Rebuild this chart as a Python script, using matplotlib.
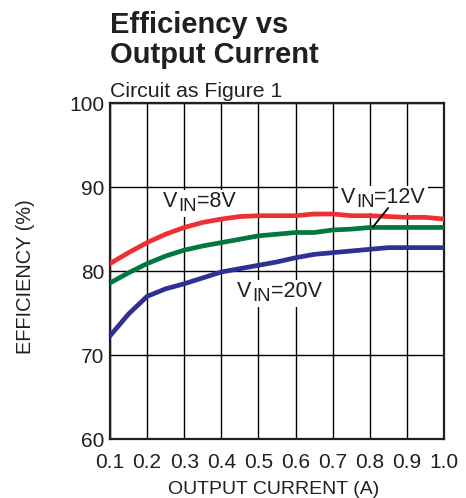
import matplotlib.pyplot as plt
from matplotlib.patches import Rectangle
from matplotlib.transforms import Bbox

plt.rcParams['font.family'] = ['Liberation Sans', 'DejaVu Sans']

# data
current = [0.1, 0.15, 0.2, 0.25, 0.3, 0.35, 0.4, 0.45, 0.5, 0.55, 0.6, 0.65, 0.7, 0.75, 0.8, 0.85, 0.9, 0.95, 1.0]
eff_8v = [80.9, 82.2, 83.4, 84.4, 85.2, 85.8, 86.2, 86.5, 86.6, 86.6, 86.6, 86.8, 86.8, 86.6, 86.6, 86.5, 86.4, 86.4, 86.2]
eff_12v = [78.6, 79.8, 80.9, 81.8, 82.5, 83.0, 83.4, 83.8, 84.2, 84.4, 84.6, 84.6, 84.9, 85.0, 85.2, 85.2, 85.2, 85.2, 85.2]
eff_20v = [72.3, 74.9, 77.0, 77.9, 78.5, 79.2, 79.9, 80.3, 80.7, 81.1, 81.6, 82.0, 82.2, 82.4, 82.6, 82.8, 82.8, 82.8, 82.8]

x_ticks = [0.1, 0.2, 0.3, 0.4, 0.5, 0.6, 0.7, 0.8, 0.9, 1.0]
y_ticks = [60, 70, 80, 90, 100]

INK = '#231f20'


# V with a big "IN" subscript, white box behind it (under the curves, over the grid)
def vin_label(ax, x, y, value, fs=15.5):
    fig = ax.figure
    r = fig.canvas.get_renderer()
    t1 = ax.text(x, y, 'V', fontsize=fs, va='baseline', color=INK, zorder=6)
    w1 = t1.get_window_extent(r).width * 72 / fig.dpi
    t2 = ax.annotate('IN', (x, y), xytext=(w1 + 0.5, -3), textcoords='offset points',
                     fontsize=fs * 0.86, va='baseline', color=INK, zorder=6)
    w2 = t2.get_window_extent(r).width * 72 / fig.dpi
    t3 = ax.annotate('=' + value, (x, y), xytext=(w1 + w2 + 0.5, 0), textcoords='offset points',
                     fontsize=fs, va='baseline', color=INK, zorder=6)
    bb = Bbox.union([t.get_window_extent(r) for t in (t1, t2, t3)])
    bb = Bbox.from_extents(bb.x0 - 3, bb.y0 - 2, bb.x1 + 3, bb.y1 + 1)
    bd = bb.transformed(ax.transData.inverted())
    ax.add_patch(Rectangle((bd.x0, bd.y0), bd.width, bd.height, facecolor='white',
                           edgecolor='none', zorder=2))


def main():
    fig = plt.figure(figsize=(4.66, 4.98), dpi=100)
    ax = fig.add_axes([0.236, 0.118, 0.717, 0.675])

    ax.plot(current, eff_8v, color='#ee2f33', lw=3.4, zorder=3)
    ax.plot(current, eff_12v, color='#00783f', lw=3.4, zorder=3)
    ax.plot(current, eff_20v, color='#2e3192', lw=3.4, zorder=3)

    ax.set_xlim(0.1, 1.0)
    ax.set_ylim(60, 100)
    ax.set_xticks(x_ticks)
    ax.set_xticklabels(['%.1f' % v for v in x_ticks])
    ax.set_yticks(y_ticks)
    ax.grid(True, color='black', lw=1.0)
    ax.tick_params(length=0, labelsize=15, colors=INK)
    ax.tick_params(axis='x', pad=10)
    ax.tick_params(axis='y', pad=4)
    for s in ax.spines.values():
        s.set_linewidth(1.6)
        s.set_color(INK)

    fig.text(0.588, 0.009, 'OUTPUT CURRENT (A)', fontsize=14, color=INK, ha='center', va='baseline')
    fig.text(0.055, 0.444, 'EFFICIENCY (%)', fontsize=14.4, color=INK, ha='center', va='center',
             rotation=90)

    vin_label(ax, 0.243, 87.66, '8V')
    vin_label(ax, 0.722, 88.14, '12V')
    vin_label(ax, 0.442, 76.89, '20V')
    ax.plot([0.849, 0.809], [87.5, 85.3], color='black', lw=1.3, zorder=7)

    fig.text(0.236, 0.9337, 'Efficiency vs', fontsize=21, fontweight='bold',
             color=INK, ha='left', va='baseline')
    fig.text(0.236, 0.8735, 'Output Current', fontsize=21, fontweight='bold',
             color=INK, ha='left', va='baseline')
    fig.text(0.236, 0.805, 'Circuit as Figure 1', fontsize=15.3, color=INK, ha='left', va='baseline')

    fig.savefig('out.png', dpi=100)


if __name__ == '__main__':
    main()
